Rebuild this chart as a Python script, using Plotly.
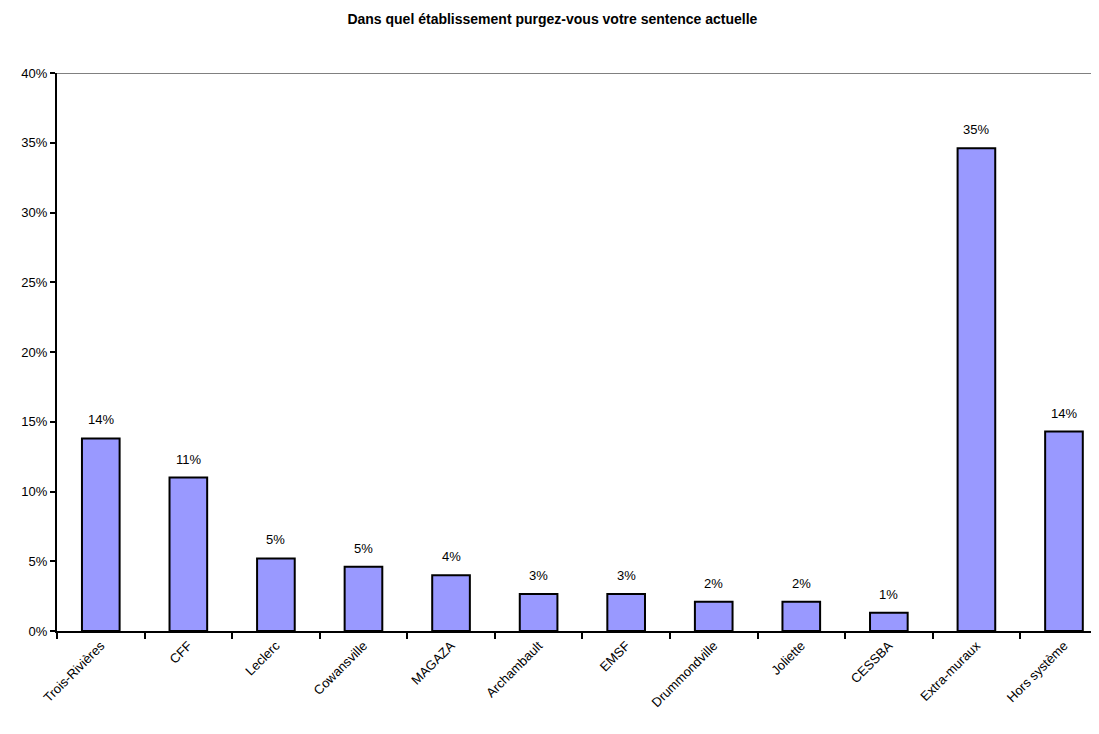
import plotly.graph_objects as go

categories = ["Trois-Rivières", "CFF", "Leclerc", "Cowansville", "MAGAZA", "Archambault",
              "EMSF", "Drummondville", "Joliette", "CESSBA", "Extra-muraux", "Hors système"]
values = [13.8, 11.0, 5.2, 4.6, 4.0, 2.65, 2.65, 2.1, 2.1, 1.3, 34.6, 14.3]
y_ticks = [0, 5, 10, 15, 20, 25, 30, 35, 40]
y_tick_labels = [f"{v}%" for v in y_ticks]
title = "Dans quel établissement purgez-vous votre sentence actuelle"

font_family = "Arial, Liberation Sans, sans-serif"

fig = go.Figure(go.Bar(
    x=categories, y=values,
    marker=dict(color="#9999FF", line=dict(color="black", width=2)),
    width=0.43,
    cliponaxis=False,
    hoverinfo="x+y",
))

annotations = [
    dict(x=c, y=v, xref="x", yref="y", text=f"{v:.0f}%", showarrow=False,
         yanchor="bottom", yshift=9,
         font=dict(family=font_family, size=13, color="black"))
    for c, v in zip(categories, values)
]

fig.update_layout(
    width=1091, height=726,
    margin=dict(l=49, r=0, t=65, b=103),
    paper_bgcolor="white", plot_bgcolor="white",
    showlegend=False,
    title=dict(text="<b>" + title + "</b>", x=0.499, xanchor="center", y=0.985, yanchor="middle",
               font=dict(family=font_family, size=14, color="black")),
    font=dict(family=font_family, size=13, color="black"),
    annotations=annotations,
    shapes=[dict(type="line", xref="paper", yref="y", x0=0, x1=1, y0=40, y1=40,
                 line=dict(color="#808080", width=2))],
)

fig.update_xaxes(
    range=[-0.5, 11.4], automargin=False,
    showline=True, linecolor="black", linewidth=2,
    ticks="outside", tickson="boundaries", ticklen=6, tickwidth=2, tickcolor="black",
    tickangle=-45, tickfont=dict(family=font_family, size=13, color="black"),
    showgrid=False,
)
fig.update_yaxes(
    range=[0, 40], automargin=False,
    tickmode="array", tickvals=y_ticks, ticktext=y_tick_labels,
    showline=True, linecolor="black", linewidth=2,
    ticks="outside", ticklen=5, tickwidth=2, tickcolor="black",
    tickfont=dict(family=font_family, size=13, color="black"),
    showgrid=False, zeroline=False,
)

fig.write_html("out.html")
